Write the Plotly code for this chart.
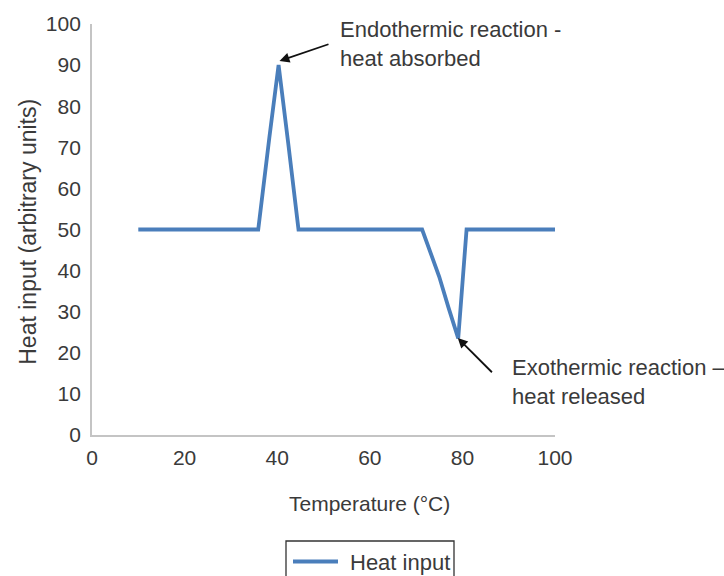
import plotly.graph_objects as go

# Heat input trace across the temperature sweep
temperature = [10, 35.9, 38.3, 40.3, 42.4, 44.6, 71.3, 73.0, 75.0, 77.0, 79.1, 80.9, 100]
heat_input = [50, 50, 72.3, 90, 70.8, 50, 50, 45.0, 38.5, 31.0, 23.5, 50, 50]

x_ticks = [0, 20, 40, 60, 80, 100]
y_ticks = [0, 10, 20, 30, 40, 50, 60, 70, 80, 90, 100]

series_name = "Heat input"
x_title = "Temperature (°C)"
y_title = "Heat input (arbitrary units)"
endo_label = "Endothermic reaction -<br>heat absorbed"
exo_label = "Exothermic reaction –<br>heat released"

FONT = "Liberation Sans, Arial, sans-serif"
TEXT_COLOR = "#3a3a3a"
LINE_COLOR = "#4a7ebb"

fig = go.Figure()
fig.add_trace(go.Scatter(
    x=temperature, y=heat_input, mode="lines", name=series_name,
    line=dict(color=LINE_COLOR, width=3.8), showlegend=False,
))

axis_common = dict(
    showgrid=False, zeroline=False, showline=True, linecolor="#c4c4c4",
    linewidth=1.8, ticks="", tickfont=dict(family=FONT, size=21, color=TEXT_COLOR),
)

fig.update_xaxes(range=[0, 100], tickvals=x_ticks, ticklabelstandoff=3, **axis_common)
fig.update_yaxes(range=[0, 100], tickvals=y_ticks, ticklabelstandoff=5, **axis_common)

annotations = [
    # axis titles
    dict(text=x_title, xref="paper", yref="paper", x=0.6, y=-0.1667,
         xanchor="center", yanchor="middle", showarrow=False,
         font=dict(family=FONT, size=21, color=TEXT_COLOR)),
    dict(text=y_title, xref="paper", yref="paper", x=-0.14, y=0.495,
         xanchor="center", yanchor="middle", textangle=-90, showarrow=False,
         font=dict(family=FONT, size=23, color=TEXT_COLOR)),
    # callouts
    dict(text=endo_label, x=53.1, y=95.1, xref="x", yref="y",
         xanchor="left", yanchor="middle", align="left", showarrow=False,
         font=dict(family=FONT, size=22, color=TEXT_COLOR)),
    dict(text="", x=40.5, y=91.0, ax=51.4, ay=95.2, xref="x", yref="y", axref="x", ayref="y",
         showarrow=True, arrowhead=2, arrowsize=1.1, arrowwidth=1.8, arrowcolor="#111111"),
    dict(text=exo_label, x=90.3, y=12.8, xref="x", yref="y",
         xanchor="left", yanchor="middle", align="left", showarrow=False,
         font=dict(family=FONT, size=22, color=TEXT_COLOR)),
    dict(text="", x=79.0, y=23.6, ax=86.7, ay=14.9, xref="x", yref="y", axref="x", ayref="y",
         showarrow=True, arrowhead=2, arrowsize=1.1, arrowwidth=1.8, arrowcolor="#111111"),
    # legend entry text
    dict(text=series_name, xref="paper", yref="paper", x=(348 - 92) / 463, y=(435 - 562) / 411,
         xanchor="left", yanchor="middle", showarrow=False,
         font=dict(family=FONT, size=22, color=TEXT_COLOR)),
]

# legend frame and swatch (paper coordinates derived from pixel layout)
def px_x(p):
    return (p - 92) / 463

def px_y(p):
    return (435 - p) / 411

shapes = [
    dict(type="rect", xref="paper", yref="paper",
         x0=px_x(286), x1=px_x(454), y0=px_y(541), y1=px_y(590),
         line=dict(color="#333333", width=1.3), fillcolor="rgba(0,0,0,0)"),
    dict(type="line", xref="paper", yref="paper",
         x0=px_x(293), x1=px_x(338), y0=px_y(561.5), y1=px_y(561.5),
         line=dict(color=LINE_COLOR, width=3.8)),
]

fig.update_layout(
    width=724, height=576,
    margin=dict(l=92, r=169, t=24, b=141),
    paper_bgcolor="white", plot_bgcolor="white",
    showlegend=False,
    annotations=annotations,
    shapes=shapes,
)

fig.write_html("out.html")
